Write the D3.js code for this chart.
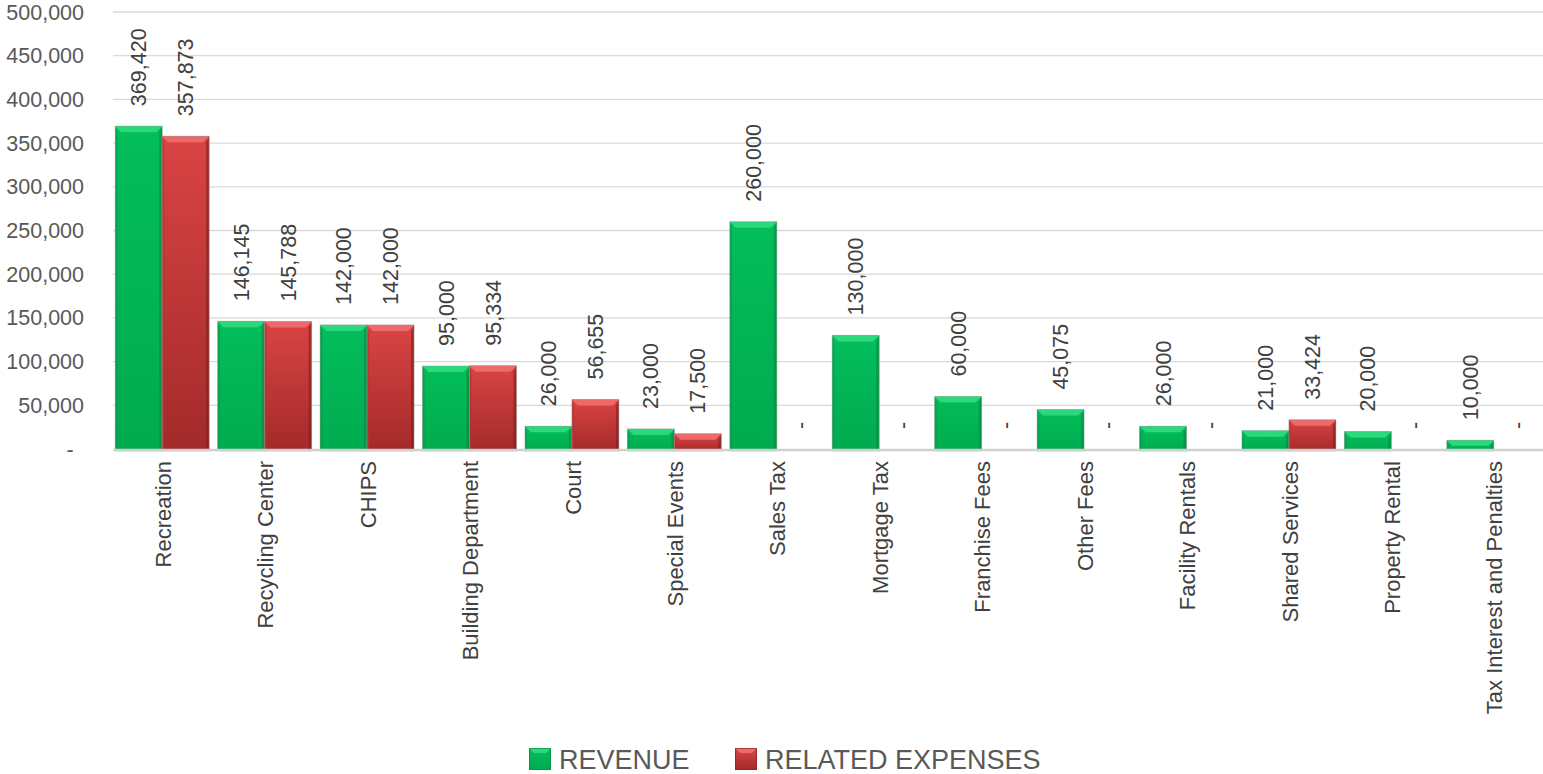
<!DOCTYPE html>
<html>
<head>
<meta charset="utf-8">
<script src="https://cdn.jsdelivr.net/npm/d3@7/dist/d3.min.js"></script>
<style>
html,body{margin:0;padding:0;background:#fff;}
svg{display:block;font-family:"Liberation Sans",Arial,sans-serif;}
</style>
</head>
<body>
<svg id="chart" width="1543" height="774"></svg>
<script>
const categories = ["Recreation","Recycling Center","CHIPS","Building Department","Court","Special Events","Sales Tax","Mortgage Tax","Franchise Fees","Other Fees","Facility Rentals","Shared Services","Property Rental","Tax Interest and Penalties"];
const revenue = [369420,146145,142000,95000,26000,23000,260000,130000,60000,45075,26000,21000,20000,10000];
const expenses = [357873,145788,142000,95334,56655,17500,0,0,0,0,0,33424,0,0];
const seriesNames = ["REVENUE","RELATED EXPENSES"];
const yTicks = [0,50000,100000,150000,200000,250000,300000,350000,400000,450000,500000];

const svg = d3.select("#chart");
const defs = svg.append("defs");

const gG = defs.append("linearGradient").attr("id","gGreen").attr("x1",0).attr("y1",0).attr("x2",0).attr("y2",1);
gG.append("stop").attr("offset","0%").attr("stop-color","#03bd5b");
gG.append("stop").attr("offset","100%").attr("stop-color","#00ab4f");
const gR = defs.append("linearGradient").attr("id","gRed").attr("x1",0).attr("y1",0).attr("x2",0).attr("y2",1);
gR.append("stop").attr("offset","0%").attr("stop-color","#da4444");
gR.append("stop").attr("offset","100%").attr("stop-color","#a32a2a");

const styles = [
  {fill:"url(#gGreen)", top:"#2bd97c", side:"#039a48", edge:"#07893f"},
  {fill:"url(#gRed)", top:"#ee6a6a", side:"#b83232", edge:"#7e1e1e"}
];

const x0 = d3.scaleBand().domain(categories).range([111,1545]).paddingInner(0.083).paddingOuter(0.0415);
const x1 = d3.scaleBand().domain([0,1]).range([0,x0.bandwidth()]);
const y = d3.scaleLinear().domain([0,500000]).range([449,12]);

svg.append("g").selectAll("line").data(yTicks.filter(d=>d>0)).join("line")
  .attr("x1",113).attr("x2",1543)
  .attr("y1",d=>y(d)).attr("y2",d=>y(d))
  .attr("stroke","#d9d9d9").attr("stroke-width",1.3);

const fmt = d3.format(",");
svg.append("g").selectAll("text").data(yTicks).join("text")
  .attr("x",d=>d===0?70:84)
  .attr("y",d=>y(d))
  .attr("dy","0.35em")
  .attr("text-anchor",d=>d===0?"middle":"end")
  .attr("font-size",21.5)
  .attr("fill","#595959")
  .text(d=>d===0?"-":fmt(d));

const data = [];
categories.forEach((c,i)=>{
  [revenue[i],expenses[i]].forEach((v,s)=>data.push({c,s,v}));
});

const barG = svg.append("g");
data.forEach(d=>{
  if(d.v<=0) return;
  const bx = x0(d.c)+x1(d.s);
  const bw = x1.bandwidth();
  const by = y(d.v);
  const bh = y(0)-by+2;
  const st = styles[d.s];
  const b = Math.min(6, bh/2);
  const g = barG.append("g");
  g.append("rect").attr("x",bx).attr("y",by).attr("width",bw).attr("height",bh).attr("fill",st.fill);
  g.append("polygon").attr("points",[[bx,by],[bx+2,by+b],[bx+2,by+bh],[bx,by+bh]].map(p=>p.join(",")).join(" ")).attr("fill",st.side).attr("opacity",0.7);
  g.append("polygon").attr("points",[[bx+bw,by],[bx+bw-3,by+b],[bx+bw-3,by+bh],[bx+bw,by+bh]].map(p=>p.join(",")).join(" ")).attr("fill",st.edge).attr("opacity",0.6);
  g.append("polygon").attr("points",[[bx,by],[bx+bw,by],[bx+bw-b,by+b],[bx+b,by+b]].map(p=>p.join(",")).join(" ")).attr("fill",st.top);
  g.append("rect").attr("x",bx).attr("y",by).attr("width",bw).attr("height",bh).attr("fill","none").attr("stroke","#9a9a9a").attr("stroke-opacity",0.45).attr("stroke-width",1);
});

svg.append("line").attr("x1",113).attr("x2",1543).attr("y1",y(0)+1).attr("y2",y(0)+1)
  .attr("stroke","#d0d0d0").attr("stroke-width",2.5);

svg.append("g").selectAll("text").data(data).join("text")
  .attr("transform",d=>{
    const cx = x0(d.c)+x1(d.s)+x1.bandwidth()/2;
    const ty = y(d.v)-20;
    return `translate(${cx},${ty}) rotate(-90)`;
  })
  .attr("dy","0.35em")
  .attr("text-anchor","start")
  .attr("font-size",21.5)
  .attr("fill","#404040")
  .text(d=>d.v===0?"-":fmt(d.v));

svg.append("g").selectAll("text").data(categories).join("text")
  .attr("transform",d=>`translate(${x0(d)+x0.bandwidth()/2+1},461) rotate(-90)`)
  .attr("dy","0.35em")
  .attr("text-anchor","end")
  .attr("font-size",22)
  .attr("fill","#404040")
  .text(d=>d);

const legend = svg.append("g");
const legX = [529,735];
seriesNames.forEach((n,i)=>{
  const st = styles[i];
  const lx = legX[i], ly = 748, s = 22;
  legend.append("rect").attr("x",lx).attr("y",ly).attr("width",s).attr("height",s).attr("fill",st.fill);
  legend.append("polygon").attr("points",[[lx,ly],[lx+s,ly],[lx+s-5,ly+5],[lx+5,ly+5]].map(p=>p.join(",")).join(" ")).attr("fill",st.top);
  legend.append("rect").attr("x",lx+0.5).attr("y",ly+0.5).attr("width",s-1).attr("height",s-1).attr("fill","none").attr("stroke",st.edge).attr("stroke-opacity",0.6).attr("stroke-width",1);
  legend.append("text").attr("x",lx+s+8).attr("y",ly+s/2).attr("dy","0.36em")
    .attr("font-size",27).attr("fill","#595959").text(n);
});
</script>
</body>
</html>
